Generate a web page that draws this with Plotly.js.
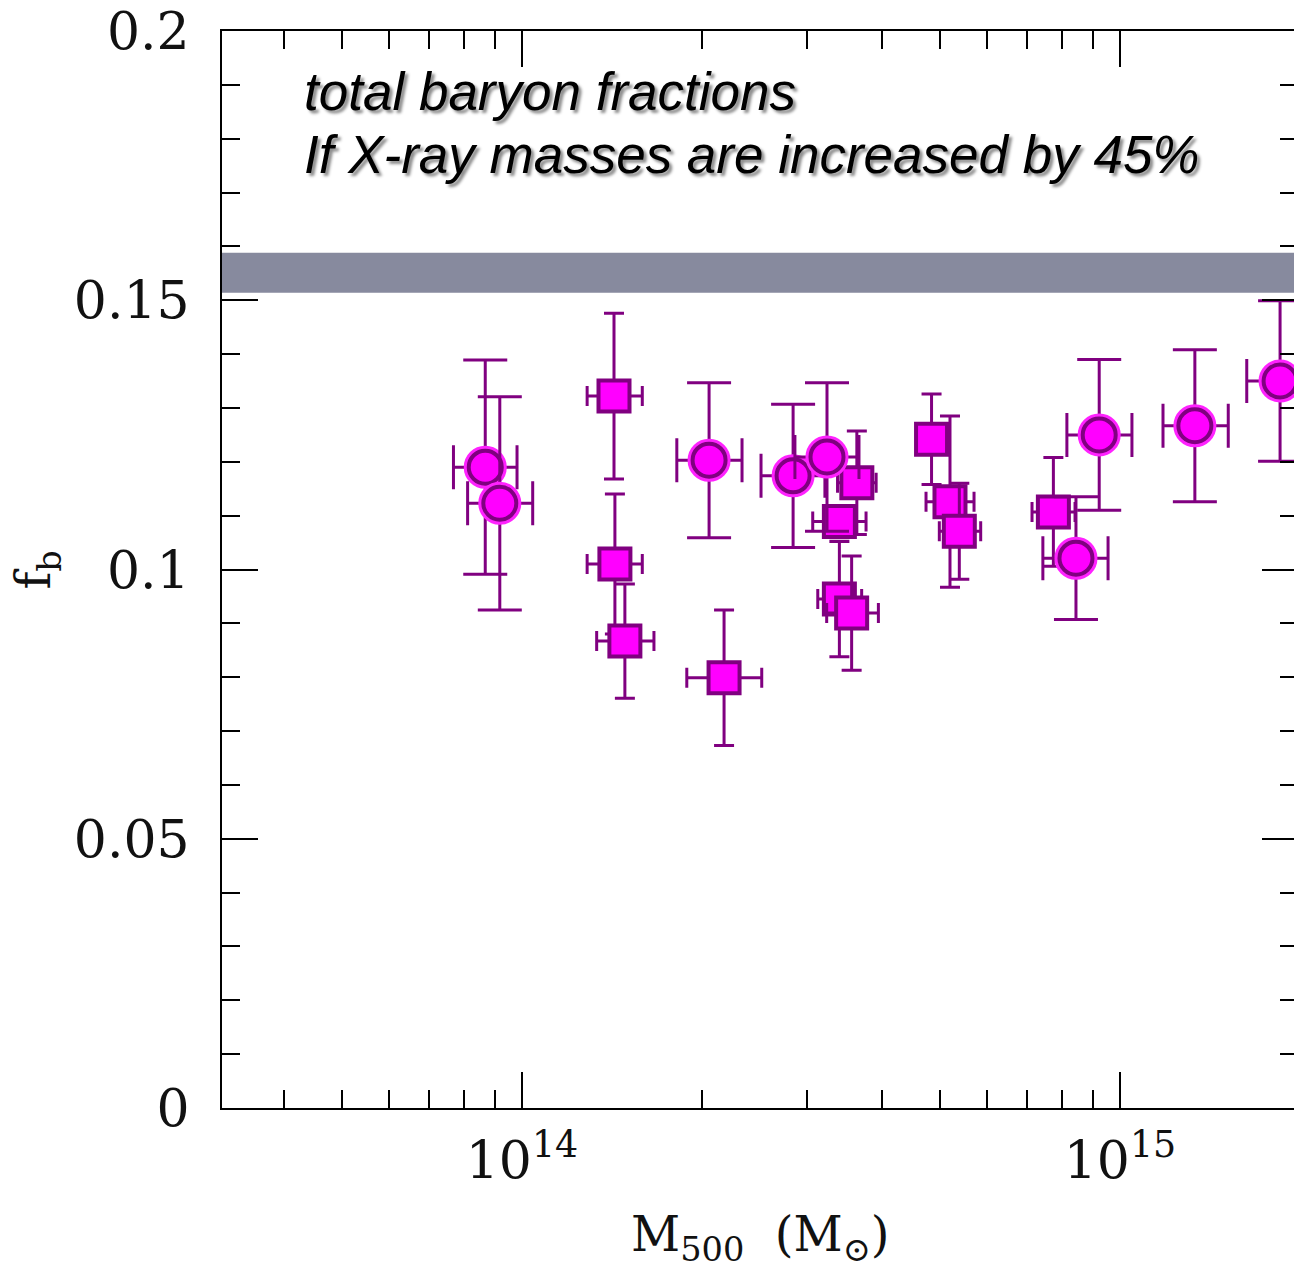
<!DOCTYPE html>
<html>
<head>
<meta charset="utf-8">
<script src="https://cdn.plot.ly/plotly-3.0.1.min.js"></script>
<style>
  html, body { margin: 0; padding: 0; overflow: hidden; background: #fff; }
  #chart { width: 1300px; height: 1272px; }
</style>
</head>
<body>
<div id="chart"></div>
<script>
// Cluster masses in units of 1e14 solar masses, with lower / upper mass bounds.
// Circles: one cluster sample; squares: the other.
const circM   = [0.868, 0.918, 2.055, 2.84, 3.236, 8.44, 9.23, 13.34, 18.52];
const circMlo = [0.768, 0.811, 1.815, 2.51, 2.86,  7.43, 8.15, 11.80, 16.29];
const circMhi = [0.981, 1.042, 2.333, 3.21, 3.66,  9.55, 10.47, 15.17, 21.04];
const circFb    = [0.1190, 0.1123, 0.1203, 0.1174, 0.1209, 0.1021, 0.1250, 0.1267, 0.1350];
const circFbErr = [0.0199, 0.0198, 0.0144, 0.0133, 0.0138, 0.0114, 0.0140, 0.0141, 0.0149];

const sqM   = [1.425, 1.430, 1.486, 2.177, 3.63, 3.394, 3.394, 3.558, 4.84, 5.196, 5.386, 7.737];
const sqMlo = [1.285, 1.285, 1.333, 1.886, 3.37, 3.063, 3.123, 3.232, 4.62, 4.738, 4.987, 7.126];
const sqMhi = [1.589, 1.589, 1.662, 2.517, 3.91, 3.761, 3.698, 3.944, 5.07, 5.70,  5.848, 8.41];
const sqFb    = [0.1322, 0.1010, 0.0867, 0.0799, 0.1161, 0.1089, 0.0945, 0.0919, 0.1242, 0.1126, 0.1071, 0.1107];
const sqFbErr = [0.0154, 0.0130, 0.0106, 0.0126, 0.0096, 0.0030, 0.0107, 0.0106, 0.0084, 0.0159, 0.0089, 0.0101];

// Cosmic baryon fraction band
const bandLo = 0.1514;
const bandHi = 0.1588;

// Axis ticks
const xMajor = [1e14, 1e15];
const xMajorText = ['10<sup>14</sup>', '10<sup>15</sup>'];
const xMinor = [4e13, 5e13, 6e13, 7e13, 8e13, 9e13,
                2e14, 3e14, 4e14, 5e14, 6e14, 7e14, 8e14, 9e14, 2e15];
const yMajor = [0, 0.05, 0.1, 0.15, 0.2];

const UNIT = 1e14;
const PURPLE = '#800080';
const MAGENTA = '#ff00ff';

function errBars(M, lo, hi, err, cap) {
  return {
    ex: { type: 'data', symmetric: false, array: [(hi - M) * UNIT], arrayminus: [(M - lo) * UNIT],
          color: PURPLE, thickness: 3, width: cap },
    ey: { type: 'data', symmetric: true, array: [err], color: PURPLE, thickness: 3, width: cap }
  };
}

const traces = [];

// squares
for (let i = 0; i < sqM.length; i++) {
  const e = errBars(sqM[i], sqMlo[i], sqMhi[i], sqFbErr[i], 10);
  traces.push({
    type: 'scatter', mode: 'markers',
    x: [sqM[i] * UNIT], y: [sqFb[i]],
    error_x: e.ex, error_y: e.ey,
    marker: { symbol: 'square', size: 31, color: MAGENTA, line: { color: PURPLE, width: 4 } }
  });
}

// circles: a bright halo with the bars, then the outlined disc on top
for (let i = 0; i < circM.length; i++) {
  const e = errBars(circM[i], circMlo[i], circMhi[i], circFbErr[i], 22);
  traces.push({
    type: 'scatter', mode: 'markers',
    x: [circM[i] * UNIT], y: [circFb[i]],
    error_x: e.ex, error_y: e.ey,
    marker: { symbol: 'circle', size: 40, color: '#ff22ff', line: { color: '#ff22ff', width: 3 } }
  });
  traces.push({
    type: 'scatter', mode: 'markers',
    x: [circM[i] * UNIT], y: [circFb[i]],
    marker: { symbol: 'circle', size: 33, color: MAGENTA, line: { color: PURPLE, width: 4 } }
  });
}

const tickFont = { family: 'DejaVu Serif', size: 52, color: '#111' };

const layout = {
  width: 1300, height: 1272,
  margin: { l: 222, r: 2, t: 31, b: 164 },
  paper_bgcolor: '#fff', plot_bgcolor: '#fff',
  showlegend: false, hovermode: false,
  xaxis: {
    type: 'log',
    range: [13.4983, 13.4983 + 1076 / 598],
    tickmode: 'array', tickvals: xMajor, ticktext: xMajorText,
    ticks: 'inside', ticklen: 36, tickwidth: 2, tickcolor: '#000',
    minor: { tickmode: 'array', tickvals: xMinor, ticks: 'inside', ticklen: 18, tickwidth: 2, tickcolor: '#000', showgrid: false },
    showline: true, linewidth: 2, linecolor: '#000', mirror: 'ticks',
    showgrid: false, zeroline: false,
    tickfont: tickFont, ticklabelstandoff: 6
  },
  yaxis: {
    range: [0, 0.2],
    tickmode: 'array', tickvals: yMajor,
    ticks: 'inside', ticklen: 36, tickwidth: 2, tickcolor: '#000',
    minor: { dtick: 0.01, ticks: 'inside', ticklen: 18, tickwidth: 2, tickcolor: '#000', showgrid: false },
    showline: true, linewidth: 2, linecolor: '#000', mirror: 'ticks',
    showgrid: false, zeroline: false,
    tickfont: tickFont, ticklabelstandoff: 20
  },
  shapes: [{
    type: 'rect', xref: 'paper', yref: 'y', x0: 0, x1: 1, y0: bandLo, y1: bandHi,
    fillcolor: '#878a9e', line: { width: 0 }, layer: 'below'
  }],
  annotations: [
    {
      xref: 'paper', yref: 'paper', x: 0.5, y: -0.089, xanchor: 'center', yanchor: 'top',
      text: 'M<sub>500</sub>  (M<sub>⊙</sub>)', showarrow: false,
      font: { family: 'DejaVu Serif', size: 48, color: '#111' }
    },
    {
      xref: 'paper', yref: 'paper', x: -0.172, y: 0.5, xanchor: 'center', yanchor: 'middle',
      text: 'f<sub>b</sub>', textangle: -90, showarrow: false,
      font: { family: 'DejaVu Serif', size: 48, color: '#111' }
    },
    {
      xref: 'paper', yref: 'paper', x: 0.0753, y: 1 - (91 - 31) / 1077, xanchor: 'left', yanchor: 'middle',
      text: '<i>total baryon fractions</i>', showarrow: false, borderpad: 0,
      font: { family: 'Liberation Sans', size: 53, color: '#000', shadow: '3px 3px 3px rgba(0,0,0,0.45)' }
    },
    {
      xref: 'paper', yref: 'paper', x: 0.0753, y: 1 - (154 - 31) / 1077, xanchor: 'left', yanchor: 'middle',
      text: '<i>If X-ray masses are increased by 45%</i>', showarrow: false, borderpad: 0,
      font: { family: 'Liberation Sans', size: 53, color: '#000', shadow: '3px 3px 3px rgba(0,0,0,0.45)' }
    }
  ]
};

Plotly.newPlot('chart', traces, layout, { staticPlot: true, displayModeBar: false });
</script>
</body>
</html>
